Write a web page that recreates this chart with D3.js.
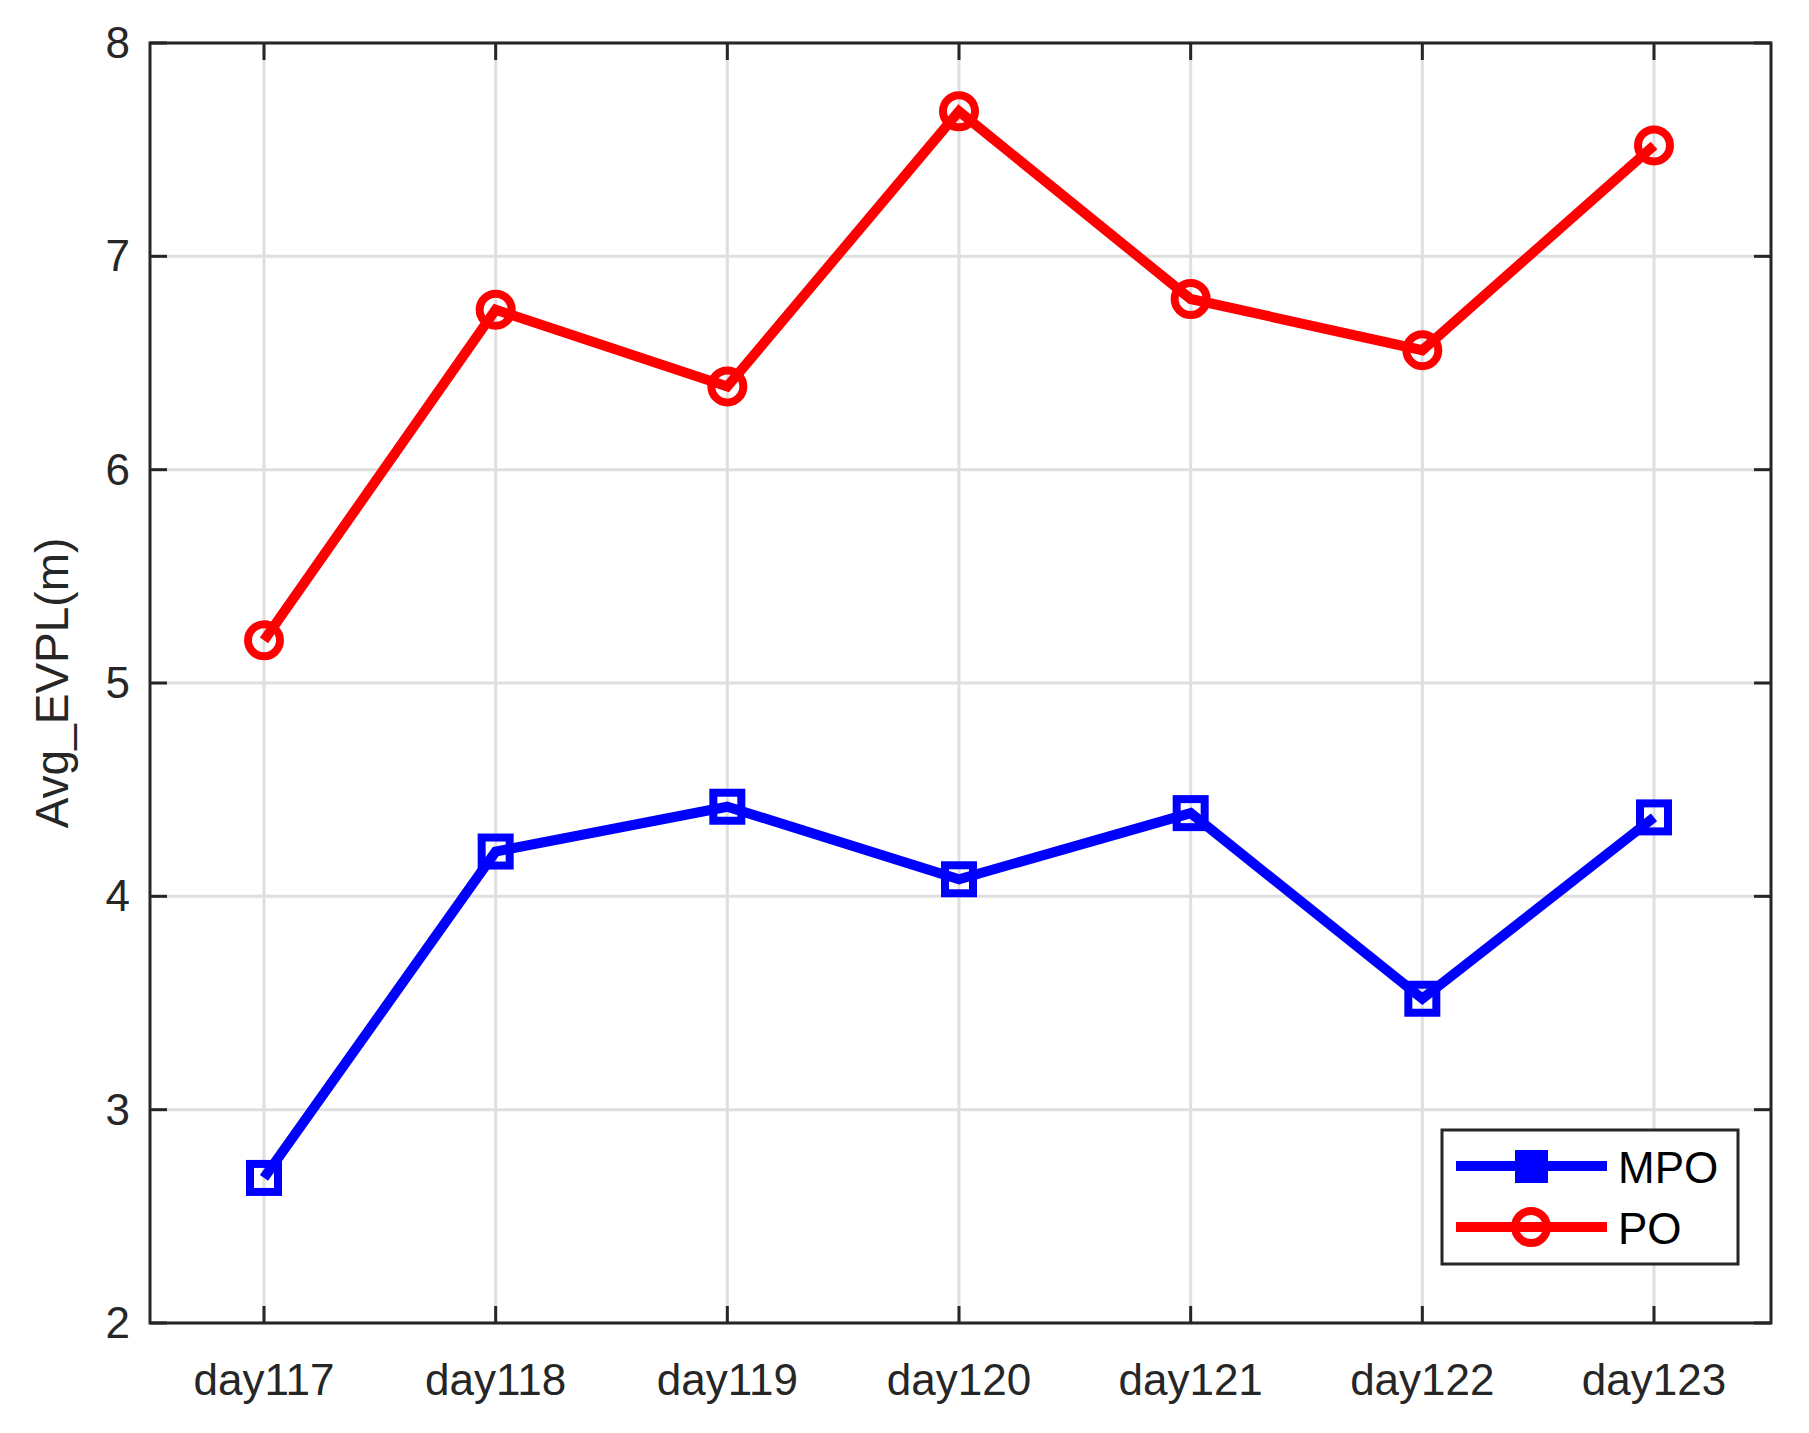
<!DOCTYPE html>
<html><head><meta charset="utf-8">
<script src="https://cdn.jsdelivr.net/npm/d3@7"></script>
<style>body{margin:0;background:#fff}text{font-family:"Liberation Sans",Arial,sans-serif;fill:#262626}</style>
</head><body><svg id="c" width="1809" height="1433"></svg>
<script>
const days = ["day117","day118","day119","day120","day121","day122","day123"];
const mpo = [2.68, 4.21, 4.42, 4.08, 4.39, 3.52, 4.37];
const po  = [5.20, 6.75, 6.39, 7.68, 6.80, 6.56, 7.52];
const yTicks = [2,3,4,5,6,7,8];

const svg = d3.select("#c");
const L = 150, R = 1771, T = 43, B = 1323;
const x = d3.scalePoint().domain(days).range([264, 1654]);
const y = d3.scaleLinear().domain([2, 8]).range([B, T]);
const ink = "#262626";

// grid
svg.append("g").selectAll("line").data(days).join("line")
  .attr("x1", d => x(d)).attr("x2", d => x(d)).attr("y1", T).attr("y2", B)
  .attr("stroke", "#dfdfdf").attr("stroke-width", 3);
svg.append("g").selectAll("line").data(yTicks).join("line")
  .attr("x1", L).attr("x2", R).attr("y1", d => y(d)).attr("y2", d => y(d))
  .attr("stroke", "#dfdfdf").attr("stroke-width", 3);

// axes box + ticks
svg.append("rect").attr("x", L).attr("y", T).attr("width", R - L).attr("height", B - T)
  .attr("fill", "none").attr("stroke", ink).attr("stroke-width", 3);
const tk = 17;
days.forEach(d => {
  svg.append("line").attr("x1", x(d)).attr("x2", x(d)).attr("y1", B).attr("y2", B - tk).attr("stroke", ink).attr("stroke-width", 3);
  svg.append("line").attr("x1", x(d)).attr("x2", x(d)).attr("y1", T).attr("y2", T + tk).attr("stroke", ink).attr("stroke-width", 3);
  svg.append("text").attr("x", x(d)).attr("y", B + 72).attr("text-anchor", "middle")
    .attr("font-size", 44).text(d);
});
yTicks.forEach(v => {
  svg.append("line").attr("x1", L).attr("x2", L + tk).attr("y1", y(v)).attr("y2", y(v)).attr("stroke", ink).attr("stroke-width", 3);
  svg.append("line").attr("x1", R).attr("x2", R - tk).attr("y1", y(v)).attr("y2", y(v)).attr("stroke", ink).attr("stroke-width", 3);
  svg.append("text").attr("x", L - 20).attr("y", y(v) + 15).attr("text-anchor", "end")
    .attr("font-size", 44).text(v);
});
svg.append("text").attr("transform", "translate(68," + ((T + B) / 2) + ") rotate(-90)")
  .attr("text-anchor", "middle").attr("font-size", 46).text("Avg_EVPL(m)");

const line = d3.line().x((d, i) => x(days[i])).y(d => y(d));
function square(g, cx, cy, col) {
  g.append("rect").attr("x", cx - 14).attr("y", cy - 14).attr("width", 28).attr("height", 28)
    .attr("fill", "none").attr("stroke", col).attr("stroke-width", 8);
}
function circ(g, cx, cy, col) {
  g.append("circle").attr("cx", cx).attr("cy", cy).attr("r", 16)
    .attr("fill", "none").attr("stroke", col).attr("stroke-width", 8);
}
svg.append("path").datum(po).attr("d", line).attr("fill", "none").attr("stroke", "#ff0000").attr("stroke-width", 10);
po.forEach((v, i) => circ(svg, x(days[i]), y(v), "#ff0000"));
svg.append("path").datum(mpo).attr("d", line).attr("fill", "none").attr("stroke", "#0000ff").attr("stroke-width", 10);
mpo.forEach((v, i) => square(svg, x(days[i]), y(v), "#0000ff"));

// legend
const lg = svg.append("g");
lg.append("rect").attr("x", 1442).attr("y", 1130).attr("width", 296).attr("height", 134)
  .attr("fill", "#fff").attr("stroke", ink).attr("stroke-width", 3);
[["MPO", "#0000ff", 1166], ["PO", "#ff0000", 1227]].forEach(([n, c, ly], i) => {
  lg.append("line").attr("x1", 1456).attr("x2", 1607).attr("y1", ly).attr("y2", ly).attr("stroke", c).attr("stroke-width", 10);
  if (i === 0) lg.append("rect").attr("x", 1515).attr("y", ly - 16).attr("width", 33).attr("height", 33).attr("fill", c);
  else circ(lg, 1531, ly, c);
  lg.append("text").attr("x", 1618).attr("y", ly + 17).attr("font-size", 44).attr("fill", "#000").style("fill", "#000").text(n);
});
</script></body></html>
